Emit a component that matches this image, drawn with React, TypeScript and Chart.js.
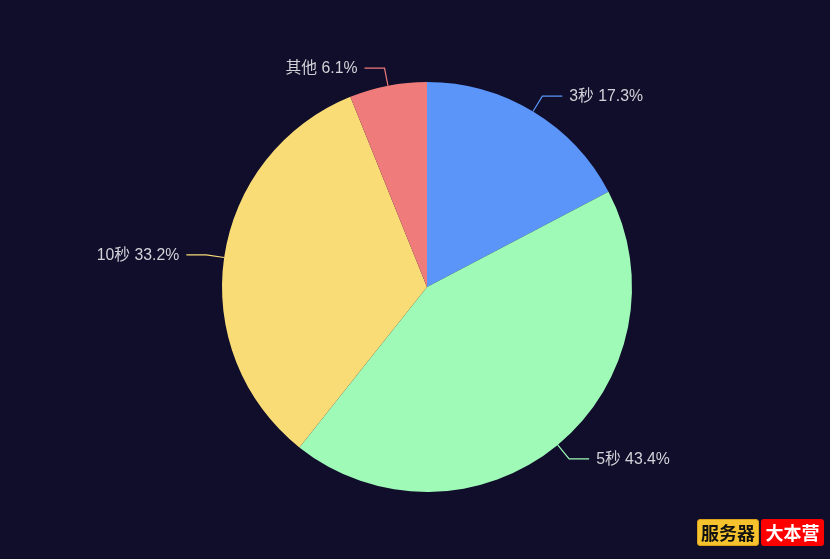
import React, { useEffect, useRef } from "react";
import { Chart, registerables } from "chart.js";

Chart.register(...registerables);

const categories = ["3秒", "5秒", "10秒", "其他"];
const values = [17.3, 43.4, 33.2, 6.1];
const colors = ["#5b95f9", "#9ffab8", "#f9dc76", "#ef7b7b"];
const BG = "#100e2b";

const leaderPlugin = {
  id: "leaderLabels",
  afterDraw(chart: any) {
    const ctx = chart.ctx;
    const meta = chart.getDatasetMeta(0);
    const total = values.reduce((a, b) => a + b, 0);
    ctx.save();
    meta.data.forEach((arc: any, i: number) => {
      const { x, y, startAngle, endAngle, outerRadius } = arc.getProps(
        ["x", "y", "startAngle", "endAngle", "outerRadius"],
        true
      );
      const mid = (startAngle + endAngle) / 2;
      const cos = Math.cos(mid);
      const sin = Math.sin(mid);
      const p0x = x + cos * outerRadius;
      const p0y = y + sin * outerRadius;
      const p1x = x + cos * (outerRadius + 18);
      const p1y = y + sin * (outerRadius + 18);
      const right = cos >= 0;
      const p2x = p1x + (right ? 20 : -20);
      const p2y = p1y;
      ctx.strokeStyle = colors[i];
      ctx.lineWidth = 1.2;
      ctx.beginPath();
      ctx.moveTo(p0x, p0y);
      ctx.lineTo(p1x, p1y);
      ctx.lineTo(p2x, p2y);
      ctx.stroke();
      const pct = ((values[i] / total) * 100).toFixed(1);
      ctx.fillStyle = "#d2d2d8";
      ctx.font = '15.8px "Liberation Sans", "Noto Sans CJK SC", sans-serif';
      ctx.textBaseline = "middle";
      ctx.textAlign = right ? "left" : "right";
      ctx.fillText(`${categories[i]} ${pct}%`, p2x + (right ? 7 : -7), p2y + 1);
    });
    ctx.restore();
  },
};

export default function App() {
  const ref = useRef<HTMLCanvasElement>(null);
  useEffect(() => {
    const chart = new Chart(ref.current!, {
      type: "pie",
      data: {
        labels: categories,
        datasets: [
          {
            data: values,
            backgroundColor: colors,
            borderWidth: 0,
          },
        ],
      },
      options: {
        animation: false,
        responsive: false,
        maintainAspectRatio: false,
        radius: 205,
        layout: { padding: { left: 24, right: 0, top: 15, bottom: 0 } },
        plugins: {
          legend: { display: false },
          tooltip: { enabled: false },
        },
      } as any,
      plugins: [leaderPlugin],
    });
    return () => chart.destroy();
  }, []);

  const badge: React.CSSProperties = {
    position: "absolute",
    top: 519,
    height: 27,
    lineHeight: "27px",
    fontSize: 18,
    fontWeight: 700,
    fontFamily: '"Noto Sans CJK SC", sans-serif',
    borderRadius: 3,
    textAlign: "center",
    padding: 0,
    boxSizing: "border-box",
    whiteSpace: "nowrap",
  };

  return (
    <div
      style={{
        position: "fixed",
        left: 0,
        top: 0,
        width: 830,
        height: 559,
        background: BG,
        overflow: "hidden",
      }}
    >
      <canvas ref={ref} width={830} height={559} style={{ display: "block" }} />
      <div style={{ ...badge, left: 697, width: 62, background: "#f6c32f", color: "#111", border: "1px solid #d9a11a", lineHeight: "25px" }}>
        服务器
      </div>
      <div style={{ ...badge, left: 761, width: 63, background: "#ff0000", color: "#fff" }}>
        大本营
      </div>
    </div>
  );
}
